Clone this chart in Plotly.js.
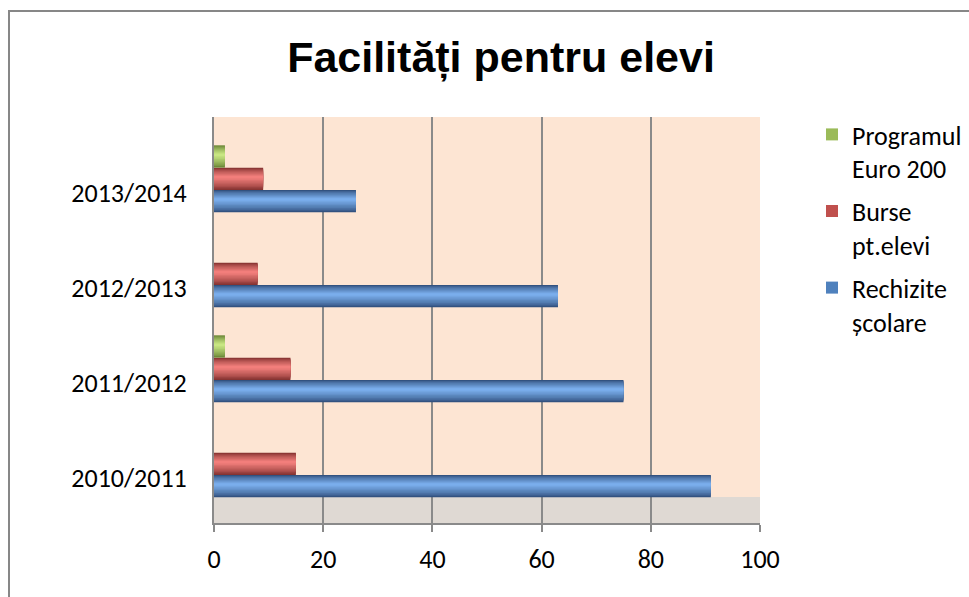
<!DOCTYPE html>
<html>
<head>
<meta charset="utf-8">
<script src="https://cdn.plot.ly/plotly-3.0.1.min.js"></script>
<style>
  html, body { margin: 0; padding: 0; background: #ffffff; overflow: hidden; }
  #wrap { position: relative; width: 969px; height: 597px; }
  #chart { position: absolute; left: 0; top: 0; width: 969px; height: 597px; }
  #frame { position: absolute; left: 8px; top: 10px; width: 2000px; height: 2000px;
           border-top: 2px solid #878787; border-left: 2px solid #878787; pointer-events: none; }
</style>
</head>
<body>
<div id="wrap">
  <div id="chart"></div>
  <div id="frame"></div>
</div>
<script>
// ---- data ----
const categories = ["2010/2011", "2011/2012", "2012/2013", "2013/2014"];
const rechizite = [91, 75, 63, 26];
const burse = [15, 14, 8, 9];
const euro200 = [0, 2, 0, 2];
const seriesNames = ["Rechizite<br>școlare", "Burse<br>pt.elevi", "Programul<br>Euro 200"];
const xTicks = [0, 20, 40, 60, 80, 100];

// ---- styling ----
const barW = 0.235;
const baseOffsets = [-0.503, -0.268, -0.033];
const legendColors = ["#4F81BD", "#C0504D", "#9BBB59"];
const darkColors = [[50, 82, 128], [135, 52, 50], [108, 136, 56]];
const lightColors = [[122, 174, 236], [242, 126, 123], [200, 230, 130]];
const nLayers = 9;
const seriesVals = [rechizite, burse, euro200];

function mix(a, b, t) {
  const c = a.map((v, i) => Math.round(v + (b[i] - v) * t));
  return "rgb(" + c.join(",") + ")";
}

const traces = [];
seriesVals.forEach((vals, s) => {
  for (let k = 0; k < nLayers; k++) {
    const f = 1 - k / nLayers;
    const w = barW * f;
    const center = baseOffsets[s] + barW * (0.5 + 0.07 * (k / (nLayers - 1)));
    traces.push({
      type: "bar",
      orientation: "h",
      x: vals,
      y: categories,
      name: seriesNames[s],
      width: w,
      offset: center - w / 2,
      marker: { color: mix(darkColors[s], lightColors[s], Math.pow(k / (nLayers - 1), 0.8)), line: { width: 0 } },
      showlegend: false,
      hoverinfo: "skip"
    });
  }
  // legend entry (flat colour)
  traces.push({
    type: "bar",
    orientation: "h",
    x: vals.map(() => null),
    y: categories,
    name: seriesNames[s],
    legendgroup: "g" + s,
    legendrank: 10 * (seriesVals.length - s),
    marker: { color: legendColors[s] },
    showlegend: true,
    hoverinfo: "skip"
  });
});

const axisGrey = "#8a8a8a";
const fontFam = "Carlito, Calibri, Lato, sans-serif";

const layout = {
  width: 969,
  height: 597,
  margin: { l: 214, r: 209, t: 117, b: 74 },
  paper_bgcolor: "rgba(0,0,0,0)",
  plot_bgcolor: "rgba(0,0,0,0)",
  barmode: "overlay",
  title: {
    text: "<b>Facilități pentru elevi</b>",
    font: { family: "'Liberation Sans', Arial, sans-serif", size: 43, color: "#000000" },
    x: 501 / 969, xref: "container", xanchor: "center",
    y: 1 - 57 / 597, yref: "container", yanchor: "middle"
  },
  xaxis: {
    range: [0, 100],
    tickvals: xTicks,
    showgrid: true, gridcolor: axisGrey, gridwidth: 2,
    zeroline: false,
    showline: true, linecolor: axisGrey, linewidth: 2,
    ticks: "outside", ticklen: 7, tickwidth: 2, tickcolor: axisGrey,
    tickfont: { family: fontFam, size: 26, color: "#000000" },
    ticklabelstandoff: 5,
    fixedrange: true
  },
  yaxis: {
    type: "category",
    categoryorder: "array",
    categoryarray: categories,
    range: [-0.5 - 26 / 95, 3.5],
    showgrid: false,
    zeroline: false,
    showline: true, linecolor: axisGrey, linewidth: 2,
    ticks: "",
    tickfont: { family: fontFam, size: 26, color: "#000000" },
    ticklabelshift: 28,
    ticklabelstandoff: 20,
    fixedrange: true
  },
  shapes: [
    { type: "rect", layer: "below", xref: "x domain", yref: "y",
      x0: 0, x1: 1, y0: -0.5, y1: 3.5, fillcolor: "#fde5d3", line: { width: 0 } },
    { type: "rect", layer: "below", xref: "x domain", yref: "y",
      x0: 0, x1: 1, y0: -0.5 - 26 / 95, y1: -0.5, fillcolor: "#dfd9d3", line: { width: 0 } }
  ],
  legend: {
    xref: "container", yref: "container",
    x: 812 / 969, y: 1 - 111 / 597,
    xanchor: "left", yanchor: "top",
    traceorder: "grouped",
    tracegroupgap: 6,
    valign: "top",
    font: { family: fontFam, size: 26, color: "#000000" },
    bgcolor: "rgba(0,0,0,0)"
  }
};

Plotly.newPlot("chart", traces, layout, { staticPlot: true, displayModeBar: false });
</script>
</body>
</html>
